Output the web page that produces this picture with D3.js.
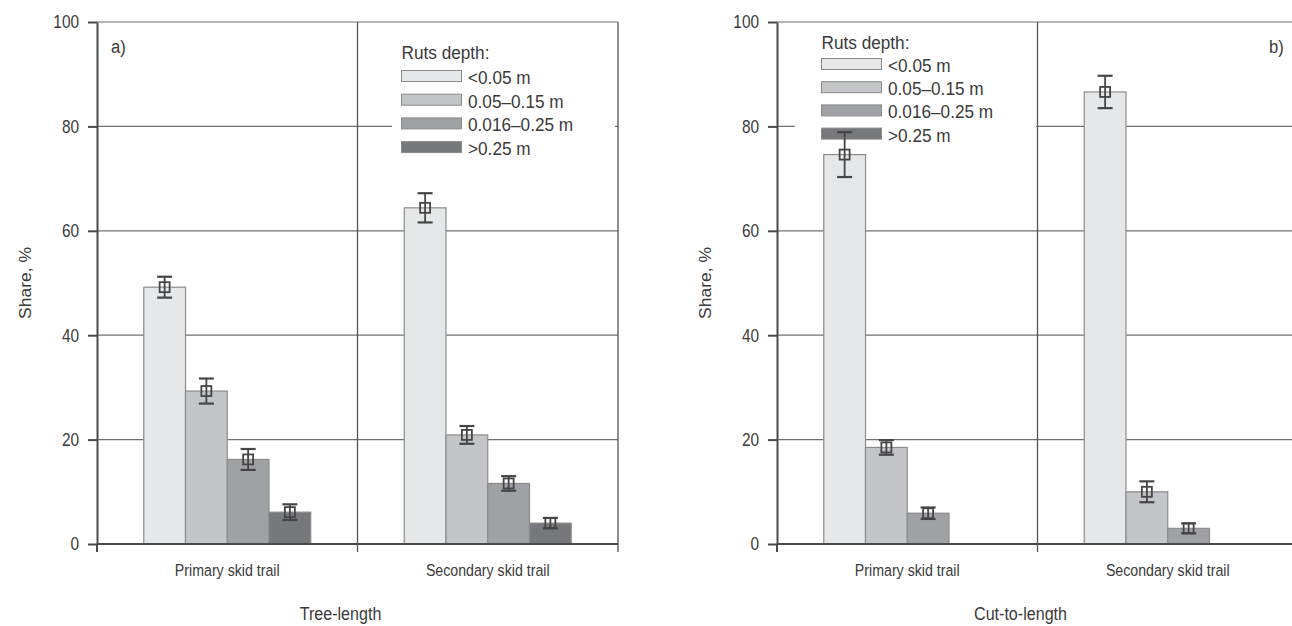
<!DOCTYPE html>
<html><head><meta charset="utf-8">
<script src="https://cdn.jsdelivr.net/npm/d3@7"></script>
<style>html,body{margin:0;padding:0;background:#fff;} svg{display:block;}</style>
</head><body>
<script>
const categories = ["Primary skid trail", "Secondary skid trail"];
const rutClasses = ["<0.05 m", "0.05–0.15 m", "0.016–0.25 m", ">0.25 m"];
const yTicks = [0, 20, 40, 60, 80, 100];
const treePrimary = [49.2, 29.3, 16.2, 6.1];
const treeSecondary = [64.4, 20.9, 11.6, 4.0];
const treePrimaryErr = [2.0, 2.4, 2.0, 1.5];
const treeSecondaryErr = [2.8, 1.7, 1.4, 1.0];
const ctlPrimary = [74.6, 18.5, 5.9, 0];
const ctlSecondary = [86.6, 10.0, 3.0, 0];
const ctlPrimaryErr = [4.3, 1.4, 1.1, 0];
const ctlSecondaryErr = [3.1, 2.0, 0.95, 0];
const barColors = ["#e6e7e9", "#c4c5c8", "#a0a1a4", "#77787b"];

const W = 1292, H = 626;
const svg = d3.select("body").append("svg").attr("width", W).attr("height", H);
svg.append("rect").attr("width", W).attr("height", H).attr("fill", "#fff");

const FONT = "'Liberation Sans', Arial, sans-serif";
const TXT = "#3a3a3a";
function txt(g, x, y, s, size, sx, anchor, rot) {
  const t = g.append("text")
    .attr("transform", rot ? `translate(${x},${y}) rotate(-90) scale(1,${sx})` : `translate(${x},${y}) scale(${sx},1)`)
    .attr("font-family", FONT).attr("font-size", size).attr("fill", TXT)
    .attr("text-anchor", anchor || "start").text(s);
  return t;
}

const y = d3.scaleLinear().domain([0, 100]).range([544, 22]);
const PW = 521;

function panel(x0, dataSets, errSets, title, letter, letterPos, leg) {
  const g = svg.append("g");
  const x = d3.scaleBand().domain(categories).range([x0, x0 + PW]).paddingInner(0).paddingOuter(0);
  const xi = d3.scaleBand().domain(rutClasses).range([0, x.bandwidth()]).paddingInner(0).paddingOuter(1.12);

  // gridlines
  g.selectAll("line.grid").data(yTicks.filter(d => d > 0)).join("line")
    .attr("x1", x0).attr("x2", x0 + PW).attr("y1", d => y(d)).attr("y2", d => y(d))
    .attr("stroke", "#707070").attr("stroke-width", 1.2);
  // right border
  g.append("line").attr("x1", x0 + PW).attr("x2", x0 + PW).attr("y1", y(100)).attr("y2", y(0) + 8)
    .attr("stroke", "#555").attr("stroke-width", 1.3);
  // category divider
  const mid = x(categories[1]);
  g.append("line").attr("x1", mid).attr("x2", mid).attr("y1", y(100)).attr("y2", y(0) + 8)
    .attr("stroke", "#555").attr("stroke-width", 1.3);

  // legend
  const lg = g.append("g");
  lg.append("rect").attr("x", leg.bx).attr("y", 25).attr("width", leg.bw).attr("height", leg.bh).attr("fill", "#fff");
  txt(lg, leg.x, leg.hy, "Ruts depth:", 18.5, 0.93, "start");
  rutClasses.forEach((c, i) => {
    const cy = leg.y0 + i * leg.dy;
    lg.append("rect").attr("x", leg.x).attr("y", cy - 5.5).attr("width", 60).attr("height", 11)
      .attr("fill", barColors[i]).attr("stroke", "#8a8a8a").attr("stroke-width", 1);
    txt(lg, leg.x + 66.5, cy + 8, c, 18.5, 0.93, "start");
  });

  // bars
  categories.forEach((cat, ci) => {
    const vals = dataSets[ci], errs = errSets[ci];
    const items = rutClasses.map((r, i) => ({ r, i, v: vals[i], e: errs[i] })).filter(d => d.v > 0);
    const bg = g.append("g");
    bg.selectAll("rect").data(items).join("rect")
      .attr("x", d => x(cat) + xi(d.r)).attr("width", xi.bandwidth())
      .attr("y", d => y(d.v)).attr("height", d => y(0) - y(d.v))
      .attr("fill", d => barColors[d.i]).attr("stroke", "#8c8c8c").attr("stroke-width", 1.2);
    const eg = bg.selectAll("g.err").data(items).join("g")
      .attr("transform", d => `translate(${x(cat) + xi(d.r) + xi.bandwidth() / 2},0)`);
    const ec = "#454545";
    eg.append("line").attr("x1", 0).attr("x2", 0).attr("y1", d => y(d.v + d.e)).attr("y2", d => y(d.v - d.e))
      .attr("stroke", ec).attr("stroke-width", 1.8);
    eg.append("line").attr("x1", -7.5).attr("x2", 7.5).attr("y1", d => y(d.v + d.e)).attr("y2", d => y(d.v + d.e))
      .attr("stroke", ec).attr("stroke-width", 2.2);
    eg.append("line").attr("x1", -7.5).attr("x2", 7.5).attr("y1", d => y(d.v - d.e)).attr("y2", d => y(d.v - d.e))
      .attr("stroke", ec).attr("stroke-width", 2.2);
    eg.append("rect").attr("x", -5).attr("y", d => y(d.v) - 5).attr("width", 10).attr("height", 10)
      .attr("fill", "none").attr("stroke", ec).attr("stroke-width", 1.8);
  });

  // axes
  const ya = g.append("g").attr("transform", `translate(${x0},0)`)
    .call(d3.axisLeft(y).tickValues(yTicks).tickSize(9).tickSizeOuter(0).tickFormat(d3.format("d")));
  ya.select(".domain").attr("stroke", "#4a4a4a").attr("stroke-width", 2);
  ya.selectAll(".tick line").attr("stroke", "#4a4a4a").attr("stroke-width", 2);
  ya.selectAll(".tick text").remove();
  yTicks.forEach(t => txt(g, x0 - 18, y(t) + 6.3, String(t), 17.5, 0.88, "end"));
  g.append("line").attr("x1", x0).attr("x2", x0).attr("y1", y(0)).attr("y2", y(0) + 8)
    .attr("stroke", "#4a4a4a").attr("stroke-width", 2);
  g.append("line").attr("x1", x0).attr("x2", x0 + PW).attr("y1", y(0)).attr("y2", y(0))
    .attr("stroke", "#4a4a4a").attr("stroke-width", 2);

  categories.forEach(cat => txt(g, x(cat) + x.bandwidth() / 2, 576, cat, 16.5, 0.86, "middle"));
  txt(g, x0 + PW / 2 - 17, 620, title, 18.5, 0.87, "middle");
  txt(g, x0 - 66, 283, "Share, %", 17.5, 0.9, "middle", true);
  txt(g, letterPos[0], letterPos[1], letter, 18.5, 0.9, "start");
}

panel(97, [treePrimary, treeSecondary], [treePrimaryErr, treeSecondaryErr], "Tree-length", "a)", [111, 53],
  { bx: 392, bw: 223, bh: 135, x: 401.5, hy: 59, y0: 76, dy: 23.7 });
panel(777, [ctlPrimary, ctlSecondary], [ctlPrimaryErr, ctlSecondaryErr], "Cut-to-length", "b)", [1269, 53],
  { bx: 795, bw: 241, bh: 118, x: 821.5, hy: 49, y0: 64, dy: 23.2 });
</script>
</body></html>
